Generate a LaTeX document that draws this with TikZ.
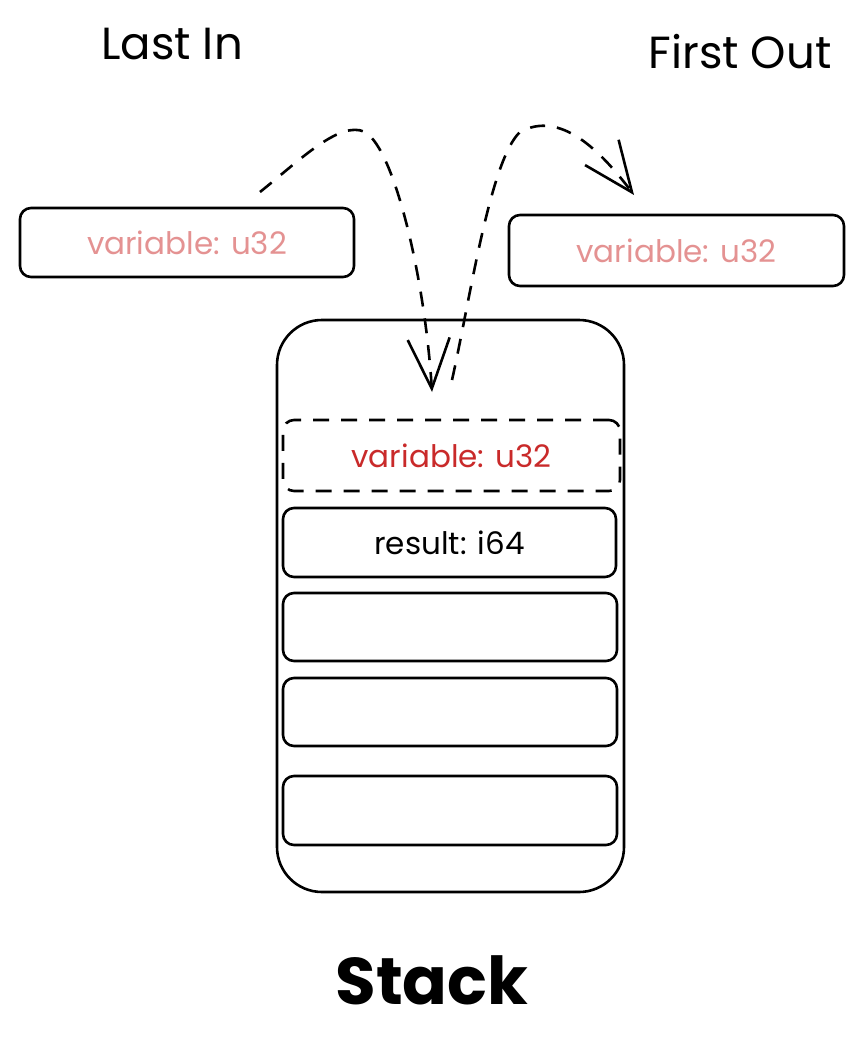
\documentclass[tikz,border=0pt]{standalone}
\usepackage{fontspec}
\setmainfont{Poppins}
\usetikzlibrary{arrows.meta}
\definecolor{lightred}{RGB}{228,146,146}
\definecolor{darkred}{RGB}{201,42,42}
\tikzset{
  box/.style={draw=black, line width=2.6pt, rounded corners=11pt, rectangle, inner sep=0pt},
  dashbox/.style={box, dash pattern=on 16pt off 12pt},
  lbl/.style={font=\fontsize{31}{31}\selectfont},
  title/.style={font=\fontsize{45}{45}\selectfont, inner sep=0pt},
  flow/.style={line width=2.6pt, dash pattern=on 15pt off 12pt, -{Straight Barb[length=50pt,width=42pt,line width=2.6pt]}}
}
\begin{document}
\begin{tikzpicture}[x=1pt,y=-1pt]
\useasboundingbox (0,0) rectangle (864,1044);
\node[title] (lastin) at (172,44) {Last In};
\node[title] (firstout) at (740,52) {First Out};

\node[box, minimum width=334pt, minimum height=69pt, text=lightred, lbl] (lbox) at (187,242.5) {variable: u32};
\node[box, minimum width=335pt, minimum height=71pt, text=lightred, lbl] (rbox) at (676.5,250.5) {variable: u32};

\node[box, rounded corners=45pt, minimum width=347pt, minimum height=572pt] (stack) at (450.5,606) {};
\node[dashbox, minimum width=337pt, minimum height=71pt, text=darkred, lbl] (cur) at (451.5,455.5) {variable: u32};
\node[box, minimum width=333pt, minimum height=69pt, lbl] (res) at (449.5,542.5) {result: i64};
\node[box, minimum width=334pt, minimum height=68pt] (e1) at (450,627) {};
\node[box, minimum width=334pt, minimum height=68pt] (e2) at (450,712) {};
\node[box, minimum width=334pt, minimum height=69pt] (e3) at (450,810.5) {};

\node[font=\fontsize{66}{66}\selectfont\bfseries, inner sep=0pt] (stacklbl) at (432,980) {Stack};

\coordinate (a1s) at (260,192);
\coordinate (a1e) at (432,392);
\coordinate (a2s) at (452,380);
\coordinate (a2e) at (634,195);
\draw[flow] (a1s) .. controls (300,160) and (340,120) .. (365,132)
  .. controls (395,150) and (425,280) .. (a1e);
\draw[flow] (a2s) .. controls (470,300) and (490,160) .. (520,132)
  .. controls (560,110) and (600,150) .. (a2e);
\end{tikzpicture}
\end{document}
